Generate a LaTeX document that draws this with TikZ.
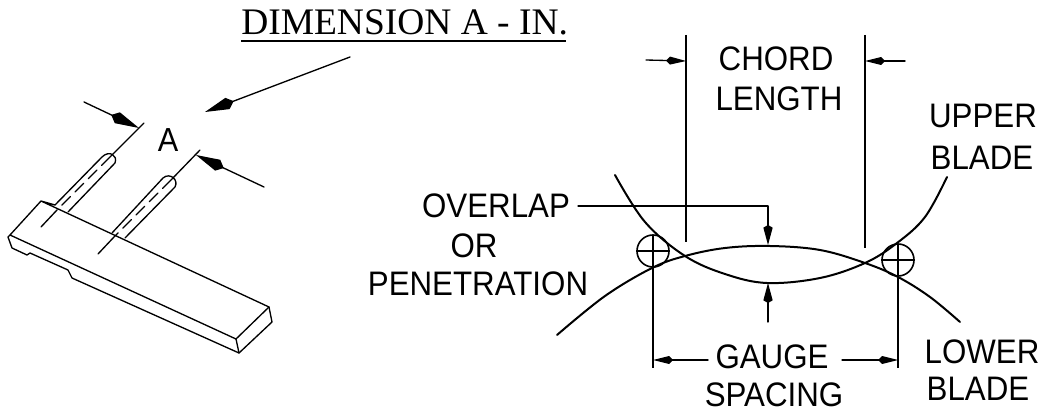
\documentclass[tikz,border=0pt]{standalone}
\usepackage{fontspec}
\setmainfont{Liberation Serif}
\newfontfamily\labfont[FakeStretch=0.92]{Liberation Sans}
\usetikzlibrary{arrows.meta}
\tikzset{
  lab/.style={inner sep=0pt,anchor=center,font=\labfont\fontsize{25.5}{25.5}\selectfont,text=black},
  ln/.style={line width=1pt,black,line cap=round,line join=round},
  thinln/.style={line width=0.85pt,black},
  blade/.style={line width=1.5pt,black,line cap=round},
  bigarrow/.style={ln,-{Kite[length=23pt,width=9pt,inset=5pt]}},
  smallarrow/.style={ln,-{Kite[length=15pt,width=6pt,inset=3pt]}},
  midarrow/.style={ln,-{Kite[length=15pt,width=7pt,inset=2pt]}},
  dashln/.style={ln,dash pattern=on 9pt off 5pt},
  gaugecircle/.style={circle,draw,line width=1.2pt,minimum size=24pt,inner sep=0pt}
}
\begin{document}
\begin{tikzpicture}[x=0.75pt,y=-0.75pt]
\useasboundingbox (0,0) rectangle (1045,413);

% title
\node[inner sep=0pt,anchor=base west,font=\fontsize{28.1}{30}\selectfont] (title) at (241,35) {DIMENSION A - IN.};
\coordinate (ul1) at (241,41); \coordinate (ul2) at (566,41);
\draw[line width=1.4pt] (ul1) -- (ul2);

% left figure coordinates
\coordinate (pointerS) at (350,57); \coordinate (pointerE) at (205,112);
\coordinate (dimLs) at (84,102); \coordinate (dimLe) at (139,128);
\coordinate (dimRs) at (264,187); \coordinate (dimRe) at (196,155);
\coordinate (e1a) at (144,123); \coordinate (e1b) at (110,157); \coordinate (e1c) at (57,210); \coordinate (e1d) at (41,227);
\coordinate (e2a) at (200,150); \coordinate (e2b) at (171,180); \coordinate (e2c) at (114,237); \coordinate (e2d) at (98,254);
\coordinate (tl) at (41,201); \coordinate (lf) at (10,235); \coordinate (far) at (269,307); \coordinate (near) at (236,339);
\coordinate (p1l) at (55,205); \coordinate (p1r) at (68,212); \coordinate (p2l) at (112,233); \coordinate (p2r) at (125,238);

\node[lab,font=\labfont\fontsize{25}{25}\selectfont] (A) at (168,140) {A};
\draw[bigarrow] (pointerS) -- (pointerE);
\draw[bigarrow] (dimLs) -- (dimLe);
\draw[bigarrow] (dimRs) -- (dimRe);
\draw[ln] (e1a) -- (e1b); \draw[dashln] (e1b) -- (e1c); \draw[ln] (e1c) -- (e1d);
\draw[ln] (e2a) -- (e2b); \draw[dashln] (e2b) -- (e2c); \draw[ln] (e2c) -- (e2d);

% pins
\draw[ln] (p1l) -- (102,157) .. controls (109,150) and (118,155) .. (115,163) -- (p1r);
\draw[ln] (p2l) -- (163,178) .. controls (170,172) and (179,180) .. (175,187) -- (p2r);

% bar
\draw[ln] (p1l) -- (tl) -- (lf) -- (near) -- (far) -- (tl);
\draw[ln] (lf) -- (8,237) -- (12,248) -- (27,255) -- (30,253) -- (68,270) -- (72,278) -- (239,353) -- (272,322) -- (far);
\draw[ln] (near) -- (239,353);

% right figure
\node[lab] (chord) at (776,59) {CHORD};
\node[lab] (length) at (779,99) {LENGTH};
\node[lab] (upper) at (983,116) {UPPER};
\node[lab] (bladeU) at (982,158) {BLADE};
\node[lab] (overlap) at (496,206) {OVERLAP};
\node[lab] (or) at (474,246) {OR};
\node[lab] (penet) at (478,284) {PENETRATION};
\node[lab] (lower) at (982,352) {LOWER};
\node[lab] (bladeL) at (978,389) {BLADE};
\node[lab] (gauge) at (772,357) {GAUGE};
\node[lab] (spacing) at (774,395) {SPACING};

% blades
\draw[blade] plot[smooth,tension=0.6] coordinates {(615,175) (645,222) (685,256) (725,274) (767,283) (820,278) (865,263) (897,243) (925,217) (947,177)};
\draw[blade] plot[smooth,tension=0.6] coordinates {(557,335) (605,296) (652,268) (685,256) (725,248) (770,246) (820,250) (865,263) (898,277) (930,297) (960,322)};

% gauge circles
\node[gaugecircle] (c1) at (653,251) {};
\node[gaugecircle] (c2) at (898,260) {};
\draw[thinln] (c1.west) -- (c1.east);
\draw[thinln] (c2.west) -- (c2.east);
\coordinate (g1t) at (653,235); \coordinate (g1b) at (653,368);
\coordinate (g2t) at (898,244); \coordinate (g2b) at (898,368);
\draw[thinln] (g1t) -- (g1b);
\draw[thinln] (g2t) -- (g2b);

% gauge dims
\coordinate (gLs) at (708,360); \coordinate (gL) at (653,360);
\coordinate (gRs) at (842,360); \coordinate (gR) at (898,360);
\draw[smallarrow] (gLs) -- (gL);
\draw[smallarrow] (gRs) -- (gR);

% chord extension
\coordinate (ch1t) at (686,35); \coordinate (ch1b) at (686,242);
\coordinate (ch2t) at (865,35); \coordinate (ch2b) at (865,248);
\draw[thinln] (ch1t) -- (ch1b);
\draw[thinln] (ch2t) -- (ch2b);
\coordinate (chLs) at (646,60); \coordinate (chL) at (686,61);
\coordinate (chRs) at (905,61); \coordinate (chR) at (865,61);
\draw[smallarrow] (chLs) -- (chL);
\draw[smallarrow] (chRs) -- (chR);

% overlap leader
\coordinate (ovA) at (578,206); \coordinate (ovB) at (768,206); \coordinate (ovC) at (768,245);
\draw[midarrow] (ovA) -- (ovB) -- (ovC);
\coordinate (ovD) at (768,322); \coordinate (ovE) at (768,283);
\draw[midarrow] (ovD) -- (ovE);
\end{tikzpicture}
\end{document}
